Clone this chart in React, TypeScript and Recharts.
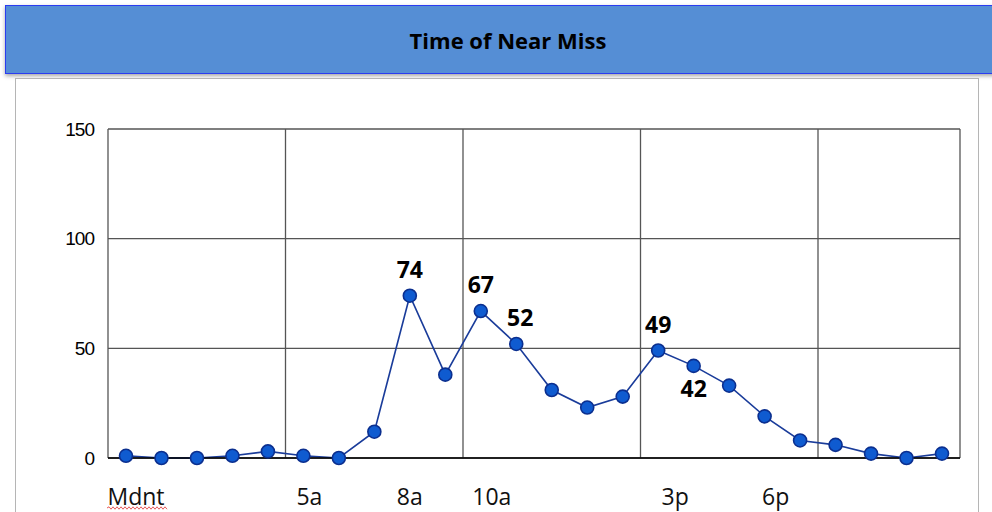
import { LineChart, Line, XAxis, YAxis, CartesianGrid, LabelList } from 'recharts';

const HOURS = [
  '0', '1', '2', '3', '4', '5', '6', '7', '8', '9', '10', '11',
  '12', '13', '14', '15', '16', '17', '18', '19', '20', '21', '22', '23',
];

const COUNTS = [1, 0, 0, 1, 3, 1, 0, 12, 74, 38, 67, 52, 31, 23, 28, 49, 42, 33, 19, 8, 6, 2, 0, 2];

const TICK_LABELS = [
  'Mdnt', '', '', '', '', '5a', '', '', '8a', '', '10a', '',
  '', '', '', '3p', '', '', '6p', '', '', '', '', '',
];

// which points carry a value label, and on which side
const SHOWN = ['', '', '', '', '', '', '', '', 'top', '', 'top', 'top', '', '', '', 'top', 'bottom', '', '', '', '', '', '', ''];

const Y_TICKS = [0, 50, 100, 150];

const data = HOURS.map((hour, i) => ({ hour, count: COUNTS[i], side: SHOWN[i] }));

const TICK_NUDGE: Record<string, number> = { Mdnt: 10, '5a': 6, '8a': 0, '10a': 11, '3p': 17, '6p': 11 };

// little red spell-check squiggle under "Mdnt"
const squiggle = (x0: number, x1: number, y: number) => {
  let d = `M${x0},${y}`;
  for (let x = x0, up = true; x < x1; x += 2, up = !up) d += ` L${x + 2},${up ? y - 1.2 : y + 1.2}`;
  return d;
};

const HourTick = (props: any) => {
  const { x, y, payload } = props;
  const label = TICK_LABELS[HOURS.indexOf(payload.value)];
  if (!label) return null;
  const cx = x + (TICK_NUDGE[label] ?? 0);
  return (
    <g>
      <text
        x={cx}
        y={y + 39}
        textAnchor="middle"
        fill="#111"
        style={{ fontFamily: '"Open Sans", sans-serif', fontSize: 23 }}
      >
        {label}
      </text>
      {label === 'Mdnt' && (
        <path d={squiggle(cx - 29, cx + 31, y + 42)} fill="none" stroke="#e03030" strokeWidth={0.8} />
      )}
    </g>
  );
};

const PeakLabel = (props: any) => {
  const { x, y, value, index } = props;
  const side = SHOWN[index];
  if (!side) return null;
  return (
    <text
      x={x + (index === 11 ? 4 : 0)}
      y={side === 'top' ? y - 18 : y + 31}
      textAnchor="middle"
      fill="#000"
      style={{ fontFamily: '"Open Sans", sans-serif', fontSize: 23, fontWeight: 700 }}
    >
      {value}
    </text>
  );
};

const verticalLines = ({ offset }: any) => {
  const step = offset.width / HOURS.length;
  return [0, 5, 10, 15, 20, 24].map((i) => offset.left + i * step);
};

export default function App() {
  return (
    <div style={{ position: 'absolute', left: 0, top: 0, width: 992, height: 512, background: '#fff', overflow: 'hidden' }}>
      <div
        style={{
          position: 'absolute',
          left: 5,
          top: 5,
          width: 1006,
          height: 69,
          background: '#558ed5',
          border: '1px solid #2b3cf0',
          boxShadow: '0 2px 4px rgba(0,0,0,0.35)',
          display: 'flex',
          alignItems: 'center',
          justifyContent: 'center',
          boxSizing: 'border-box',
          fontFamily: '"Open Sans", sans-serif',
          fontWeight: 700,
          fontSize: 22,
          color: '#000',
        }}
      >
        Time of Near Miss
      </div>
      <div
        style={{
          position: 'absolute',
          left: 15,
          top: 78,
          width: 964,
          height: 450,
          border: '1px solid #b5b5b5',
          boxSizing: 'border-box',
          background: '#fff',
        }}
      />
      <div style={{ position: 'absolute', left: 0, top: 0 }}>
        <LineChart width={992} height={512} data={data} margin={{ top: 129, right: 32, bottom: 4, left: 48 }}>
          <CartesianGrid
            stroke="#555"
            strokeWidth={1.3}
            horizontal
            vertical
            verticalCoordinatesGenerator={verticalLines}
          />
          <XAxis
            dataKey="hour"
            interval={0}
            height={50}
            padding={{ left: 18, right: 18 }}
            tickLine={false}
            axisLine={{ stroke: '#000', strokeWidth: 1.5 }}
            tick={<HourTick />}
          />
          <YAxis
            width={60}
            domain={[0, 150]}
            ticks={Y_TICKS}
            tickLine={false}
            axisLine={false}
            tickMargin={8}
            tick={{ fill: '#000', fontSize: 19, letterSpacing: -1, fontFamily: '"Liberation Sans", Arial, sans-serif' }}
          />
          <Line
            type="linear"
            dataKey="count"
            stroke="#1a3c9a"
            strokeWidth={1.6}
            dot={{ r: 6.5, fill: '#0f5bd0', stroke: '#0b2f8f', strokeWidth: 1.6 }}
            activeDot={false}
            isAnimationActive={false}
          >
            <LabelList dataKey="count" content={<PeakLabel />} />
          </Line>
        </LineChart>
      </div>
    </div>
  );
}
